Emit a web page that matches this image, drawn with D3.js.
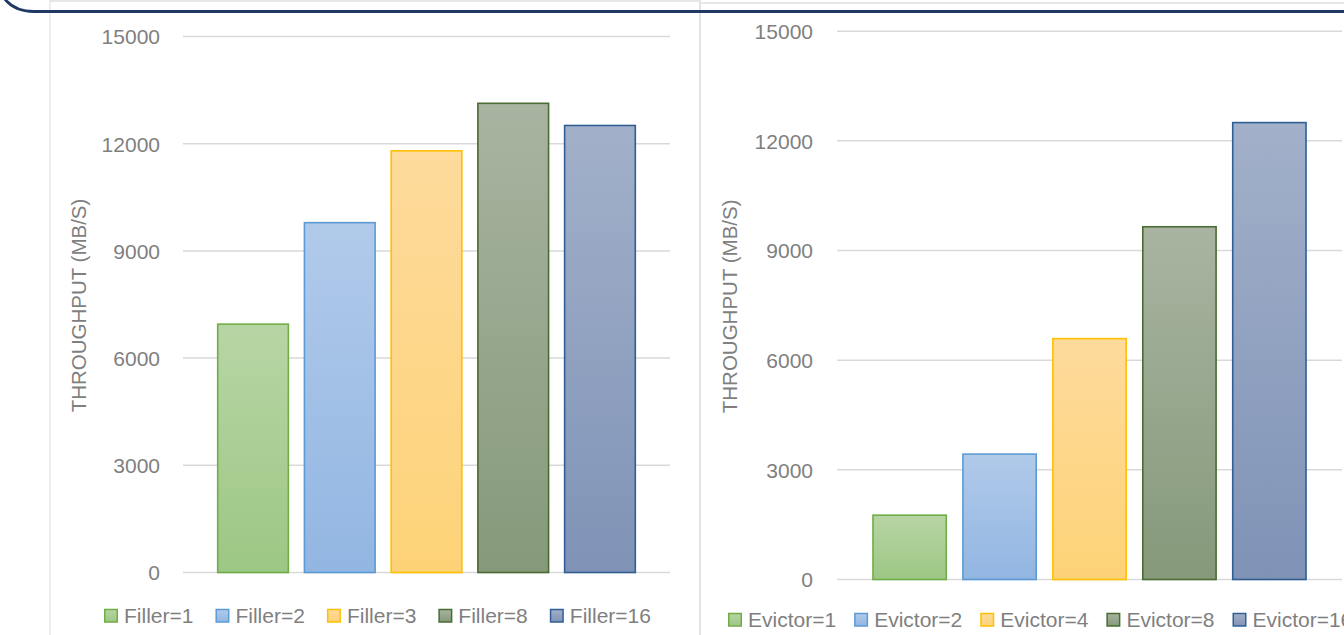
<!DOCTYPE html>
<html><head><meta charset="utf-8">
<script src="https://cdn.jsdelivr.net/npm/d3@7"></script>
<style>body{margin:0;background:#fff;overflow:hidden}svg{display:block}</style>
</head><body><svg id="c" width="1344" height="635"></svg>
<script>
// ---- data ----
const fillerLabels = ["Filler=1", "Filler=2", "Filler=3", "Filler=8", "Filler=16"];
const fillerValues = [6950, 9790, 11800, 13130, 12510];
const evictorLabels = ["Evictor=1", "Evictor=2", "Evictor=4", "Evictor=8", "Evictor=16"];
const evictorValues = [1760, 3430, 6590, 9650, 12500];
const yTickValues = [0, 3000, 6000, 9000, 12000, 15000];
const axisTitle = "THROUGHPUT (MB/S)";
const seriesTop = ["#b7d5a4", "#b1caea", "#fedb9c", "#a8b4a1", "#a2b0c9"];
const seriesBottom = ["#9dc785", "#92b6e2", "#fdd277", "#86997a", "#7f93b7"];
const seriesStroke = ["#70ad47", "#5b9bd5", "#ffc000", "#4a6b33", "#2f5f94"];

const FONT = "'Liberation Sans', Arial, sans-serif";
const TXT = "#7f7f7f";
const svg = d3.select("#c");
const defs = svg.append("defs");

seriesTop.forEach((c, i) => {
  const lg = defs.append("linearGradient").attr("id", "g" + i)
    .attr("x1", 0).attr("y1", 0).attr("x2", 0).attr("y2", 1);
  lg.append("stop").attr("offset", "0%").attr("stop-color", c);
  lg.append("stop").attr("offset", "100%").attr("stop-color", seriesBottom[i]);
});

// frame lines (screenshot chrome)
svg.append("line").attr("x1", 50).attr("x2", 50).attr("y1", 0).attr("y2", 635).attr("stroke", "#e3e3e3").attr("stroke-width", 1.2);
svg.append("line").attr("x1", 50).attr("x2", 699).attr("y1", 1).attr("y2", 1).attr("stroke", "#cfcfcf").attr("stroke-width", 1.2);
svg.append("line").attr("x1", 700).attr("x2", 700).attr("y1", 0).attr("y2", 635).attr("stroke", "#dadada").attr("stroke-width", 1.5);
svg.append("line").attr("x1", 701).attr("x2", 1344).attr("y1", 3).attr("y2", 3).attr("stroke", "#cfcfcf").attr("stroke-width", 1.2);

function drawChart(cfg, labels, values) {
  const g = svg.append("g");
  const y = d3.scaleLinear().domain([0, 15000]).range([cfg.y0, cfg.y1]);
  const x = d3.scaleBand().domain(labels).range([cfg.x0, cfg.x1])
    .paddingInner(0.185).paddingOuter(0.4);

  // gridlines
  g.selectAll(".grid").data(yTickValues).join("line")
    .attr("x1", cfg.x0).attr("x2", cfg.x1)
    .attr("y1", d => y(d)).attr("y2", d => y(d))
    .attr("stroke", "#d9d9d9").attr("stroke-width", 1.5);

  // tick labels via axis
  const ax = g.append("g").attr("transform", `translate(${cfg.tickX},0)`)
    .call(d3.axisLeft(y).tickValues(yTickValues).tickSize(0).tickPadding(0).tickFormat(d3.format("d")));
  ax.select(".domain").remove();
  ax.selectAll("text").attr("fill", TXT).style("font-family", FONT).style("font-size", "21px").attr("dy", "0.35em");

  // bars
  g.selectAll(".bar").data(values).join("rect")
    .attr("x", (d, i) => x(labels[i]))
    .attr("width", x.bandwidth())
    .attr("y", d => y(d))
    .attr("height", d => y(0) - y(d))
    .attr("fill", (d, i) => `url(#g${i})`)
    .attr("stroke", (d, i) => seriesStroke[i])
    .attr("stroke-width", 1.6);

  // axis title
  g.append("text").attr("transform", `translate(${cfg.titleX},${(cfg.y0 + cfg.y1) / 2 + 1}) rotate(-90)`)
    .attr("text-anchor", "middle").attr("dy", "0.35em")
    .attr("fill", TXT).style("font-family", FONT).style("font-size", cfg.titleSize + "px")
    .text(axisTitle);

  // legend
  let lx = cfg.legX;
  labels.forEach((lab, i) => {
    g.append("rect").attr("x", lx + 0.75).attr("y", cfg.legY - 6.5).attr("width", 12.5).attr("height", 12.5)
      .attr("fill", `url(#g${i})`).attr("stroke", seriesStroke[i]).attr("stroke-width", 1.5);
    const t = g.append("text").attr("x", lx + 20).attr("y", cfg.legY).attr("dy", "0.35em")
      .attr("fill", TXT).style("font-family", FONT).style("font-size", "21px").text(lab);
    lx += 20 + t.node().getComputedTextLength() + cfg.legGap;
  });
}

drawChart({x0: 183, x1: 670, y0: 572.5, y1: 36.5, tickX: 160, titleX: 79, titleSize: 20.5, legX: 104, legY: 616, legGap: 22}, fillerLabels, fillerValues);
drawChart({x0: 837, x1: 1342, y0: 579.5, y1: 31.2, tickX: 813, titleX: 730, titleSize: 20.5, legX: 728, legY: 620, legGap: 18}, evictorLabels, evictorValues);

// dark blue rounded frame line on top
svg.append("path").attr("d", "M4,-2 Q14,11.5 34,11.5 L1344,11.5")
  .attr("fill", "none").attr("stroke", "#1f3864").attr("stroke-width", 2.8);
</script>
</body></html>
